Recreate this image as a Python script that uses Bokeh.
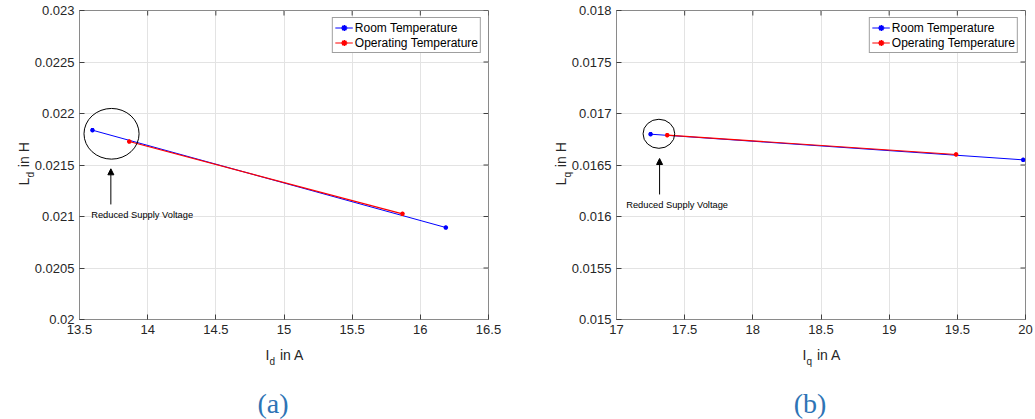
import math
from bokeh.plotting import figure
from bokeh.models import (Range1d, FixedTicker, NumeralTickFormatter,
                          Label, Arrow, NormalHead)
from bokeh.layouts import row
from bokeh.embed import file_html
from bokeh.resources import INLINE

# ---------------- data ----------------
room_id = [13.595, 16.187]
room_ld = [0.021838, 0.020893]
op_id = [13.865, 15.869]
op_ld = [0.021728, 0.021026]

room_iq = [17.25, 19.983]
room_lq = [0.016799, 0.016550]
op_iq = [17.372, 19.491]
op_lq = [0.016790, 0.016602]

xticks_a = [13.5, 14, 14.5, 15, 15.5, 16, 16.5]
yticks_a = [0.02, 0.0205, 0.021, 0.0215, 0.022, 0.0225, 0.023]
xticks_b = [17, 17.5, 18, 18.5, 19, 19.5, 20]
yticks_b = [0.015, 0.0155, 0.016, 0.0165, 0.017, 0.0175, 0.018]

series_names = ["Room Temperature", "Operating Temperature"]
note_text = "Reduced Supply Voltage"

# annotation (circle, arrow, note) in data coordinates
circle_a = [13.735, 0.021803, 0.404, 0.000492]
arrow_a = [13.73, 0.021117, 13.73, 0.021463]
note_a = [13.586, 0.021010]
circle_b = [17.311, 0.016803, 0.2325, 0.000282]
arrow_b = [17.316, 0.016214, 17.316, 0.016563]
note_b = [17.071, 0.016113]

FONT = "Liberation Sans"
TXT = "#262626"
AX = "#8a8a8a"
FRAME_TOP = 10
FRAME_H = 309
FRAME_W = 409
TICK = 5
NB = "\u00a0\u00a0\u2009"


def style_axis(ax):
    ax.axis_line_color = AX
    ax.axis_line_width = 1
    ax.major_tick_in = TICK
    ax.major_tick_out = 0
    ax.minor_tick_in = 0
    ax.minor_tick_out = 0
    ax.major_tick_line_color = "#404040"
    ax.major_label_text_font = FONT
    ax.major_label_text_color = TXT
    ax.major_label_text_font_size = "13px"
    ax.major_label_standoff = 5


def panel(xt, yt, rx, ry, ox, oy, sub, circ, arr, note, caption, bl, br):
    p = figure(frame_width=FRAME_W, frame_height=FRAME_H, min_border_left=bl,
               min_border_right=br, min_border_top=FRAME_TOP, min_border_bottom=100,
               x_range=Range1d(xt[0], xt[-1]), y_range=Range1d(yt[0], yt[-1]),
               output_backend="svg", toolbar_location=None)
    p.outline_line_color = AX
    p.xaxis.ticker = FixedTicker(ticks=xt)
    p.yaxis.ticker = FixedTicker(ticks=yt)
    p.xaxis.formatter = NumeralTickFormatter(format="0.[0000]")
    p.yaxis.formatter = NumeralTickFormatter(format="0.[0000]")
    style_axis(p.xaxis[0])
    style_axis(p.yaxis[0])
    p.xgrid.grid_line_color = "#e3e3e3"
    p.ygrid.grid_line_color = "#e3e3e3"

    # inward ticks on the top and right edges of the box
    dy = TICK / FRAME_H * (yt[-1] - yt[0])
    dx = TICK / FRAME_W * (xt[-1] - xt[0])
    p.segment(x0=xt, x1=xt, y0=[yt[-1]] * len(xt), y1=[yt[-1] - dy] * len(xt),
              line_color="#404040", line_width=1)
    p.segment(x0=[xt[-1]] * len(yt), x1=[xt[-1] - dx] * len(yt), y0=yt, y1=yt,
              line_color="#404040", line_width=1)

    p.line(rx, ry, line_color="blue", line_width=1, legend_label=series_names[0])
    p.scatter(rx, ry, marker="asterisk", size=4.5, line_width=1.5, line_color="blue",
              legend_label=series_names[0])
    p.line(ox, oy, line_color="red", line_width=1.2, legend_label=series_names[1])
    p.scatter(ox, oy, marker="asterisk", size=4.5, line_width=1.5, line_color="red",
              legend_label=series_names[1])

    lg = p.legend[0]
    lg.location = "top_right"
    lg.margin = 7
    lg.padding = 2
    lg.spacing = 0
    lg.label_height = 15
    lg.glyph_height = 15
    lg.glyph_width = 18
    lg.label_standoff = 2
    lg.label_text_font = FONT
    lg.label_text_font_size = "12px"
    lg.label_text_color = "black"
    lg.border_line_color = "#404040"
    lg.border_line_width = 1
    lg.background_fill_alpha = 1

    p.ellipse(x=[circ[0]], y=[circ[1]], width=[circ[2]], height=[circ[3]],
              fill_color=None, line_color="black", line_width=1)
    p.add_layout(Arrow(end=NormalHead(size=6, fill_color="black", line_color="black"),
                       x_start=arr[0], y_start=arr[1], x_end=arr[2], y_end=arr[3],
                       line_color="black", line_width=1))
    p.add_layout(Label(x=note[0], y=note[1], text=note_text, text_font=FONT,
                       text_font_size="9.3px", text_color="black",
                       text_baseline="middle", text_align="left"))

    # axis titles (with subscripts) and caption, placed relative to the frame
    # fx: px from frame left, fy: px up from frame bottom
    parts = [
        ("below", 186, -35, "I" + NB + "in A", "14px", 0.0, TXT, FONT, "left"),
        ("below", 190.0, -41.5, sub, "10px", 0.0, TXT, FONT, "left"),
        ("left", -56, 134, "L" + NB + "in H", "14px", math.pi / 2, TXT, FONT, "left"),
        ("left", -49.5, 142, sub, "10px", math.pi / 2, TXT, FONT, "left"),
        ("below", 193.5, -84, caption, "28px", 0.0, "#2E74B5", "Liberation Serif", "center"),
    ]
    for side, fx, fy, t, sz, ang, col, fnt, al in parts:
        p.add_layout(Label(x=bl + fx, y=FRAME_TOP + FRAME_H - fy,
                           x_units="canvas", y_units="canvas", text=t,
                           text_font=fnt, text_font_size=sz, text_color=col,
                           text_baseline="alphabetic", text_align=al,
                           angle=ang), side)
    return p


p1 = panel(xticks_a, yticks_a, room_id, room_ld, op_id, op_ld,
           "d", circle_a, arrow_a, note_a, "(a)", 79, 27)
p2 = panel(xticks_b, yticks_b, room_iq, room_lq, op_iq, op_lq,
           "q", circle_b, arrow_b, note_b, "(b)", 101, 10)

layout = row(p1, p2)
open("out.html", "w").write(file_html(layout, INLINE, title="chart"))
